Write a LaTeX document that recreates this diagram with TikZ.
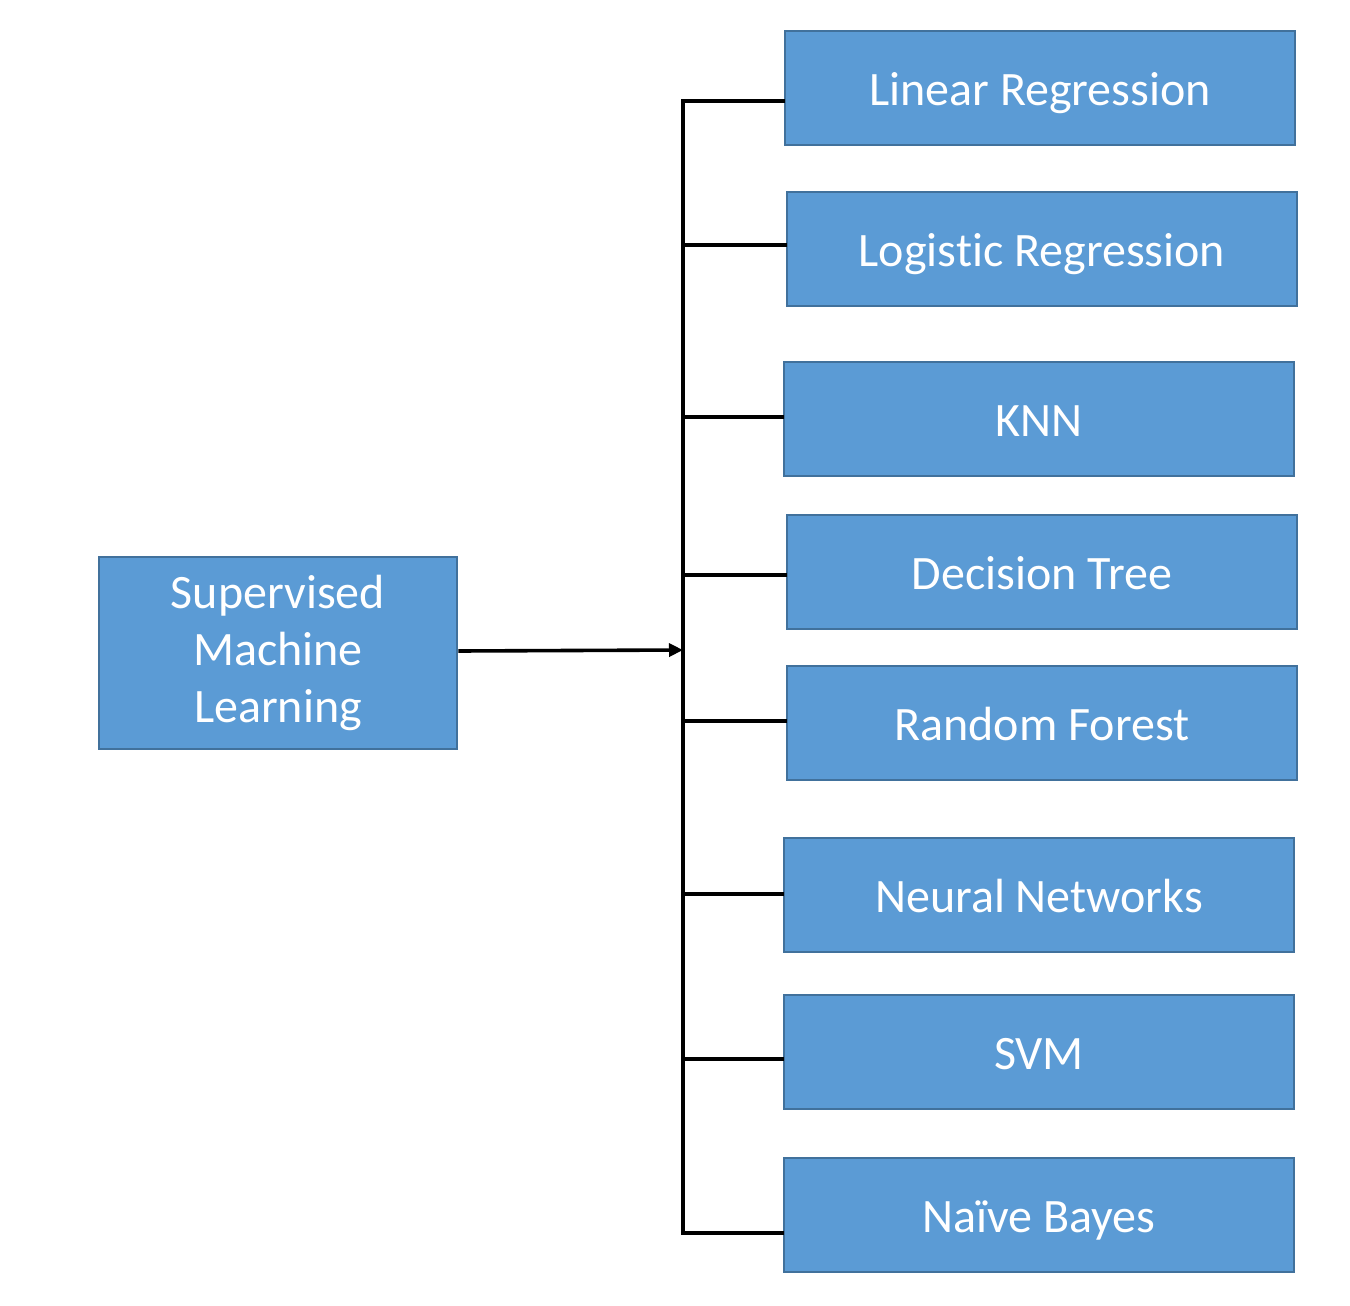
\documentclass[tikz,border=0pt]{standalone}
\usepackage{fontspec}
\setmainfont[Ligatures=NoCommon]{Carlito}
\usepackage{tikz}
\usetikzlibrary{arrows.meta,positioning}

\definecolor{boxfill}{HTML}{5B9BD5}
\definecolor{boxline}{HTML}{41719C}

\begin{document}
\begin{tikzpicture}[
  x=0.5pt, y=-0.5pt,
  font=\fontsize{24}{28.5}\selectfont,
  box/.style={draw=boxline, fill=boxfill, line width=1.4pt, text=white, align=center, inner sep=0pt},
  algo/.style={box, text height=17pt, text depth=0pt, minimum width=255pt, minimum height=57pt},
  root/.style={box, text width=179pt, minimum height=96pt},
  link/.style={line width=1.8pt, line cap=rect}
]
\useasboundingbox[fill=white] (0,0) rectangle (1350,1306);
\node[root] (sml) at (278,653) {Supervised\\Machine\\Learning};
\node[algo] (linreg) at (1040,88) {Linear Regression};
\node[algo] (logreg) at (1042,249) {Logistic Regression};
\node[algo] (knn) at (1039,419) {KNN};
\node[algo] (dtree) at (1042,572) {Decision Tree};
\node[algo] (rforest) at (1042,723) {Random Forest};
\node[algo] (nnet) at (1039,895) {Neural Networks};
\node[algo] (svm) at (1039,1052) {SVM};
\node[algo] (nbayes) at (1039,1215) {Naïve Bayes};
% bus
\coordinate (top) at (683,101);
\coordinate (bot) at (683,1233);
\draw[link] (top) -- (bot);
\draw[link] (top) -- (top -| linreg.west);
\draw[link] (683,245) -- (logreg.west |- 0,245);
\draw[link] (683,417) -- (knn.west |- 0,417);
\draw[link] (683,575) -- (dtree.west |- 0,575);
\draw[link] (683,721) -- (rforest.west |- 0,721);
\draw[link] (683,894) -- (nnet.west |- 0,894);
\draw[link] (683,1059) -- (svm.west |- 0,1059);
\draw[link] (bot) -- (bot -| nbayes.west);
\draw[line width=1.8pt, -{Triangle[length=7pt,width=6.5pt]}] (sml.east |- 0,651) -- (683,650);
\end{tikzpicture}
\end{document}
